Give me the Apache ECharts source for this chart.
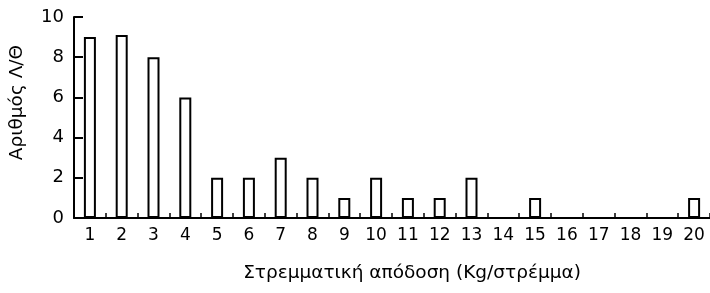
<!DOCTYPE html>
<html>
<head>
<meta charset="utf-8">
<script src="https://cdn.jsdelivr.net/npm/echarts@6/dist/echarts.min.js"></script>
<style>
  html, body {margin: 0; padding: 0; background: #fff;}
  #chart {width: 710px; height: 293px;}
</style>
</head>
<body>
<div id="chart"></div>
<script>
    // τιμές διαβασμένες από το διάγραμμα
    var categories = ['1', '2', '3', '4', '5', '6', '7', '8', '9', '10',
        '11', '12', '13', '14', '15', '16', '17', '18', '19', '20'];
    var counts = [9, 9.1, 8, 6, 2, 2, 3, 2, 1, 2, 1, 1, 2, 0, 1, 0, 0, 0, 0, 1];
    var yTicks = {min: 0, max: 10, interval: 2};

    var txt = {color: '#000', fontFamily: 'DejaVu Sans, sans-serif', fontSize: 17};
    var axLine = {show: true, lineStyle: {color: '#000', width: 2}};

    var chart = echarts.init(document.getElementById('chart'));
    chart.setOption({
        animation: false,
        grid: {left: 74, right: -8, top: 17, bottom: 75, containLabel: false},
        xAxis: {
            type: 'category', data: categories, boundaryGap: true,
            name: 'Στρεμματική απόδοση (Kg/στρέμμα)', nameLocation: 'middle', nameGap: 46,
            nameTextStyle: Object.assign({}, txt, {fontSize: 18.5, padding: [0, 0, 0, 40]}),
            axisLine: axLine,
            axisTick: {show: true, inside: true, length: 5, lineStyle: {color: '#000', width: 1.5}},
            axisLabel: Object.assign({}, txt, {margin: 9, interval: 0}),
            splitLine: {show: 0}
        },
        yAxis: {
            type: 'value', min: yTicks.min, max: yTicks.max, interval: yTicks.interval,
            name: 'Αριθμός Λ/Θ', nameLocation: 'middle', nameGap: 47,
            nameTextStyle: Object.assign({}, txt, {fontSize: 18.5, padding: [0, 0, 0, 30]}),
            axisLine: axLine,
            axisTick: {show: true, inside: true, length: 9, lineStyle: {color: '#000', width: 2}},
            axisLabel: Object.assign({}, txt, {fontSize: 18, margin: 10}),
            splitLine: {show: 0}
        },
        series: [{
            type: 'bar', data: counts, barWidth: 12,
            itemStyle: {color: '#fff', borderColor: '#000', borderWidth: 2}
        }]
    });
</script>
</body>
</html>
